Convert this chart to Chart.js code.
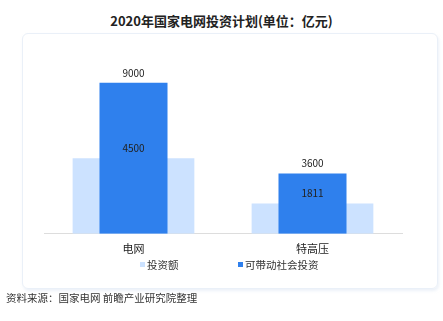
<!DOCTYPE html>
<html>
<head>
<meta charset="utf-8">
<script src="https://cdn.jsdelivr.net/npm/chart.js@4/dist/chart.umd.min.js"></script>
<style>
  body { margin: 0; background: #fff; }
  .wrap { position: relative; width: 443px; height: 321px; }
  .panel { position: absolute; left: 22px; top: 33px; width: 414px; height: 254px;
           border: 1px solid #eaf0f8; border-radius: 6px; box-shadow: 1px 2px 3px rgba(200,215,235,0.35); }
  .title { position: absolute; left: 0; width: 443px; top: 11px; text-align: center;
           font: bold 13px "Noto Sans CJK SC", sans-serif; color: #222; }
  .source { position: absolute; left: 6px; top: 290px; font: 10.5px "Noto Sans CJK SC", sans-serif; color: #333; }
  canvas { position: absolute; left: 0; top: 0; }
</style>
</head>
<body>
<div class="wrap">
  <div class="panel"></div>
  <div class="title">2020年国家电网投资计划(单位：亿元)</div>
  <canvas id="myChart" width="443" height="321"></canvas>
  <div class="source">资料来源：国家电网 前瞻产业研究院整理</div>
</div>
<script>
const categories = ['电网', '特高压'];
const investment = [4500, 1811];
const socialInvestment = [9000, 3600];
const seriesNames = ['投资额', '可带动社会投资'];

const lightBlue = '#cce2ff';
const darkBlue = '#2f80ed';

// value labels drawn after all bars so the light-bar labels sit on top of the dark bars
const valueLabels = {
  id: 'valueLabels',
  afterDatasetsDraw(chart) {
    const ctx = chart.ctx;
    ctx.save();
    ctx.font = '10px "Noto Sans CJK SC", sans-serif';
    ctx.fillStyle = '#222';
    ctx.textAlign = 'center';
    ctx.textBaseline = 'middle';
    chart.data.datasets.forEach((ds, i) => {
      chart.getDatasetMeta(i).data.forEach((bar, j) => {
        ctx.fillText(ds.data[j], bar.x, bar.y - 10);
      });
    });
    ctx.restore();
  }
};

const customLegend = {
  id: 'customLegend',
  afterDraw(chart) {
    const ctx = chart.ctx;
    ctx.save();
    ctx.font = '10.5px "Noto Sans CJK SC", sans-serif';
    ctx.textBaseline = 'middle';
    const y = 265;
    const starts = [140, 238];
    chart.data.datasets.forEach((ds, i) => {
      ctx.fillStyle = ds.backgroundColor;
      ctx.fillRect(starts[i], y - 3, 5, 5);
      ctx.fillStyle = '#333';
      ctx.fillText(ds.label, starts[i] + 7, y);
    });
    ctx.restore();
  }
};

new Chart(document.getElementById('myChart').getContext('2d'), {
  type: 'bar',
  data: {
    labels: categories,
    datasets: [{
      label: seriesNames[0],
      data: investment,
      backgroundColor: lightBlue,
      grouped: false,
      categoryPercentage: 1,
      barPercentage: 0.68,
      order: 2
    }, {
      label: seriesNames[1],
      data: socialInvestment,
      backgroundColor: darkBlue,
      grouped: false,
      categoryPercentage: 1,
      barPercentage: 0.38,
      order: 1
    }]
  },
  options: {
    responsive: false,
    animation: false,
    layout: { padding: { left: 44, right: 41, top: 66, bottom: 58 } },
    plugins: {
      legend: { display: false },
      tooltip: { enabled: false },
      title: { display: false }
    },
    scales: {
      x: {
        grid: { display: false, drawTicks: false },
        border: { display: true, color: '#dddddd', width: 1 },
        ticks: {
          padding: 8,
          color: '#222',
          font: { family: '"Noto Sans CJK SC", sans-serif', size: 11 }
        }
      },
      y: {
        display: false,
        min: 0,
        max: 10000
      }
    }
  },
  plugins: [valueLabels, customLegend]
});
</script>
</body>
</html>
